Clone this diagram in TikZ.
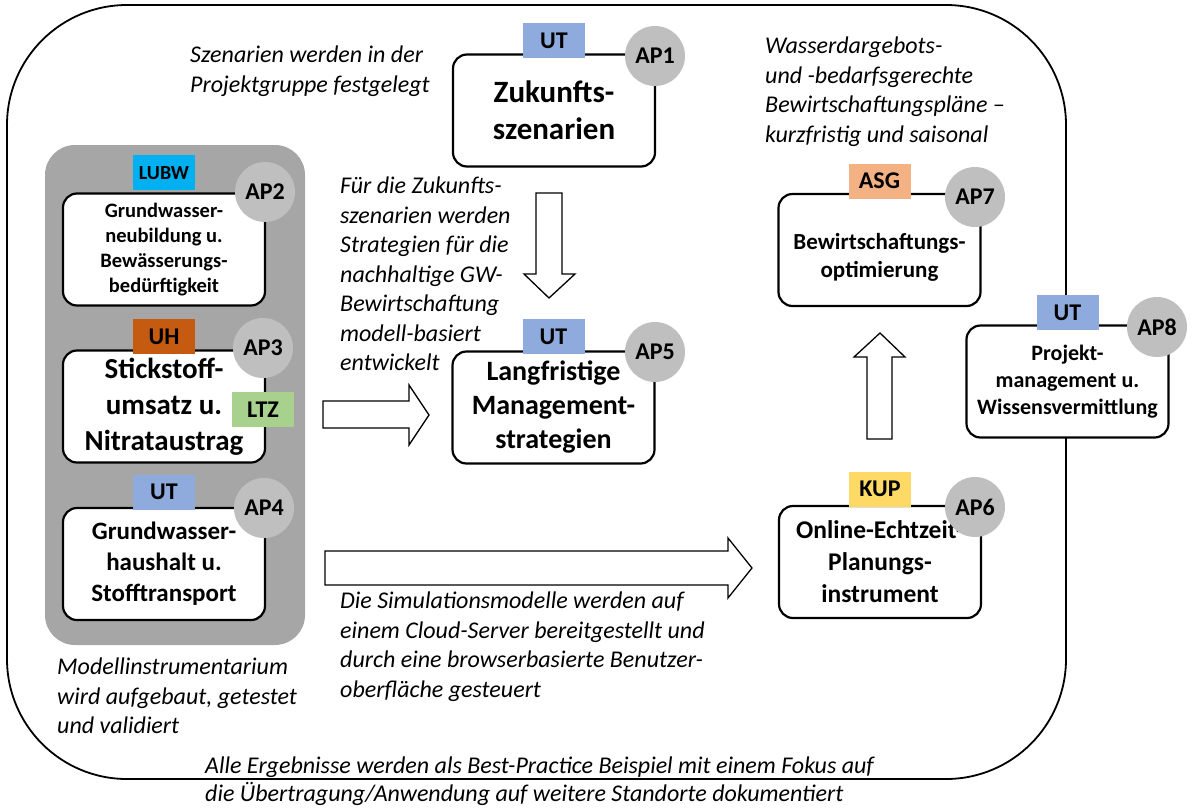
\documentclass[tikz,border=0pt]{standalone}
\usepackage{fontspec}
\setmainfont{Carlito}
\usetikzlibrary{positioning}

\definecolor{utblue}{HTML}{8FAADC}
\definecolor{lubwcyan}{HTML}{00B0F0}
\definecolor{uhbrown}{HTML}{C55A11}
\definecolor{ltzgreen}{HTML}{A9D18E}
\definecolor{asgorange}{HTML}{F4B183}
\definecolor{kupyellow}{HTML}{FFD966}
\definecolor{apgray}{HTML}{BFBFBF}
\definecolor{modgray}{HTML}{A6A6A6}

\newcommand\bxfont[2]{\bfseries\fontsize{#1}{#2}\selectfont}

\tikzset{
  apbox/.style={draw, line width=2.2pt, rounded corners=14pt, fill=white,
    minimum width=202pt, minimum height=112pt, align=center, inner sep=0pt},
  tagbox/.style={fill=#1, minimum width=62pt, minimum height=35pt, inner sep=0pt,
    font=\bxfont{24}{26}},
  apnum/.style={circle, fill=apgray, minimum size=60pt, inner sep=0pt,
    font=\bxfont{24}{26}},
  remark/.style={anchor=north west, align=left, inner sep=0pt,
    font=\itshape\fontsize{24}{29.5}\selectfont},
  bigarrow/.style={draw, fill=white, line width=1.3pt, line join=miter}
}

\begin{document}
\begin{tikzpicture}[x=1pt,y=-1pt]
\useasboundingbox (0,0) rectangle (1200,809);

% outer frame and model group
\draw[line width=1.8pt, rounded corners=120pt] (7,5) rectangle (1066,779);
\fill[modgray, rounded corners=30pt] (45,145) rectangle (305,645);

% work packages
\node[apbox, font=\bxfont{31}{37}] (ap1) at (554,110.5) {Zukunfts-\\szenarien};
\node[apbox, font=\bxfont{20.5}{25.3}] (ap2) at (164,249.5) {Grundwasser-\\neubildung u.\\Bewässerungs-\\bedürftigkeit};
\node[apbox, font=\bxfont{29}{36}] (ap3) at (164,406.5) {Stickstoff-\\umsatz u.\\Nitrataustrag};
\node[apbox, font=\bxfont{25}{31}] (ap4) at (164,564) {Grundwasser-\\haushalt u.\\Stofftransport};
\node[apbox, font=\bxfont{28}{34}] (ap5) at (553.5,407.5) {Langfristige\\Management-\\strategien};
\node[apbox, font=\bxfont{25.5}{32}] (ap6) at (880,562) {Online-Echtzeit-\\Planungs-\\instrument};
\node[apbox, font=\bxfont{23}{28}] (ap7) at (879.5,250) {\rule{0pt}{31pt}Bewirtschaftungs-\\optimierung};
\node[apbox, font=\bxfont{22}{27}] (ap8) at (1067.5,381.5) {Projekt-\\management u.\\Wissensvermittlung};

% partners
\node[tagbox=utblue, above=-5pt of ap1] (t1) {UT};
\node[tagbox=lubwcyan, font=\bxfont{20}{24}, above=2pt of ap2] (t2) {LUBW};
\node[tagbox=uhbrown, above=-5pt of ap3] (t3) {UH};
\node[tagbox=ltzgreen] (t3b) at (263,409.5) {LTZ};
\node[tagbox=utblue, above=-3pt of ap4] (t4) {UT};
\node[tagbox=utblue, above=-4pt of ap5] (t5) {UT};
\node[tagbox=kupyellow, above=-2pt of ap6] (t6) {KUP};
\node[tagbox=asgorange, above=-6pt of ap7] (t7) {ASG};
\node[tagbox=utblue, above=-6pt of ap8] (t8) {UT};

% AP numbers
\node[apnum] (n1) at (655,56) {AP1};
\node[apnum] (n2) at (265,192) {AP2};
\node[apnum] (n3) at (263,348) {AP3};
\node[apnum] (n4) at (264,508) {AP4};
\node[apnum] (n5) at (655,352) {AP5};
\node[apnum] (n6) at (975,507) {AP6};
\node[apnum] (n7) at (975,197) {AP7};
\node[apnum] (n8) at (1157,327) {AP8};

% block arrows
\draw[bigarrow] (536,193) -- (562,193) -- (562,274) -- (575,274) -- (549,298)
  -- (524,274) -- (536,274) -- cycle;
\draw[bigarrow] (323,401) -- (409,401) -- (409,385) -- (429,415) -- (409,445)
  -- (409,428) -- (323,428) -- cycle;
\draw[bigarrow] (325,551) -- (728,551) -- (728,538) -- (752,568) -- (728,598)
  -- (728,585) -- (325,585) -- cycle;
\draw[bigarrow] (867,439) -- (892,439) -- (892,357) -- (905,357) -- (880,333)
  -- (854,357) -- (867,357) -- cycle;

% remarks
\node[remark] (r1) at (190,46) {Szenarien werden in der\\Projektgruppe festgelegt};
\node[remark] (r2) at (765,37) {Wasserdargebots-\\und -bedarfsgerechte\\Bewirtschaftungspläne –\\kurzfristig und saisonal};
\node[remark] (r3) at (340,177) {Für die Zukunfts-\\szenarien werden\\Strategien für die\\nachhaltige GW-\\Bewirtschaftung\\modell-basiert\\entwickelt};
\node[remark] (r4) at (340,592) {Die Simulationsmodelle werden auf\\einem Cloud-Server bereitgestellt und\\durch eine browserbasierte Benutzer-\\oberfläche gesteuert};
\node[remark] (r5) at (57,658) {Modellinstrumentarium\\wird aufgebaut, getestet\\und validiert};
\node[remark, font=\itshape\fontsize{24}{28}\selectfont] (r6) at (205,757) {Alle Ergebnisse werden als Best-Practice Beispiel mit einem Fokus auf\\die Übertragung/Anwendung auf weitere Standorte dokumentiert};
\end{tikzpicture}
\end{document}
